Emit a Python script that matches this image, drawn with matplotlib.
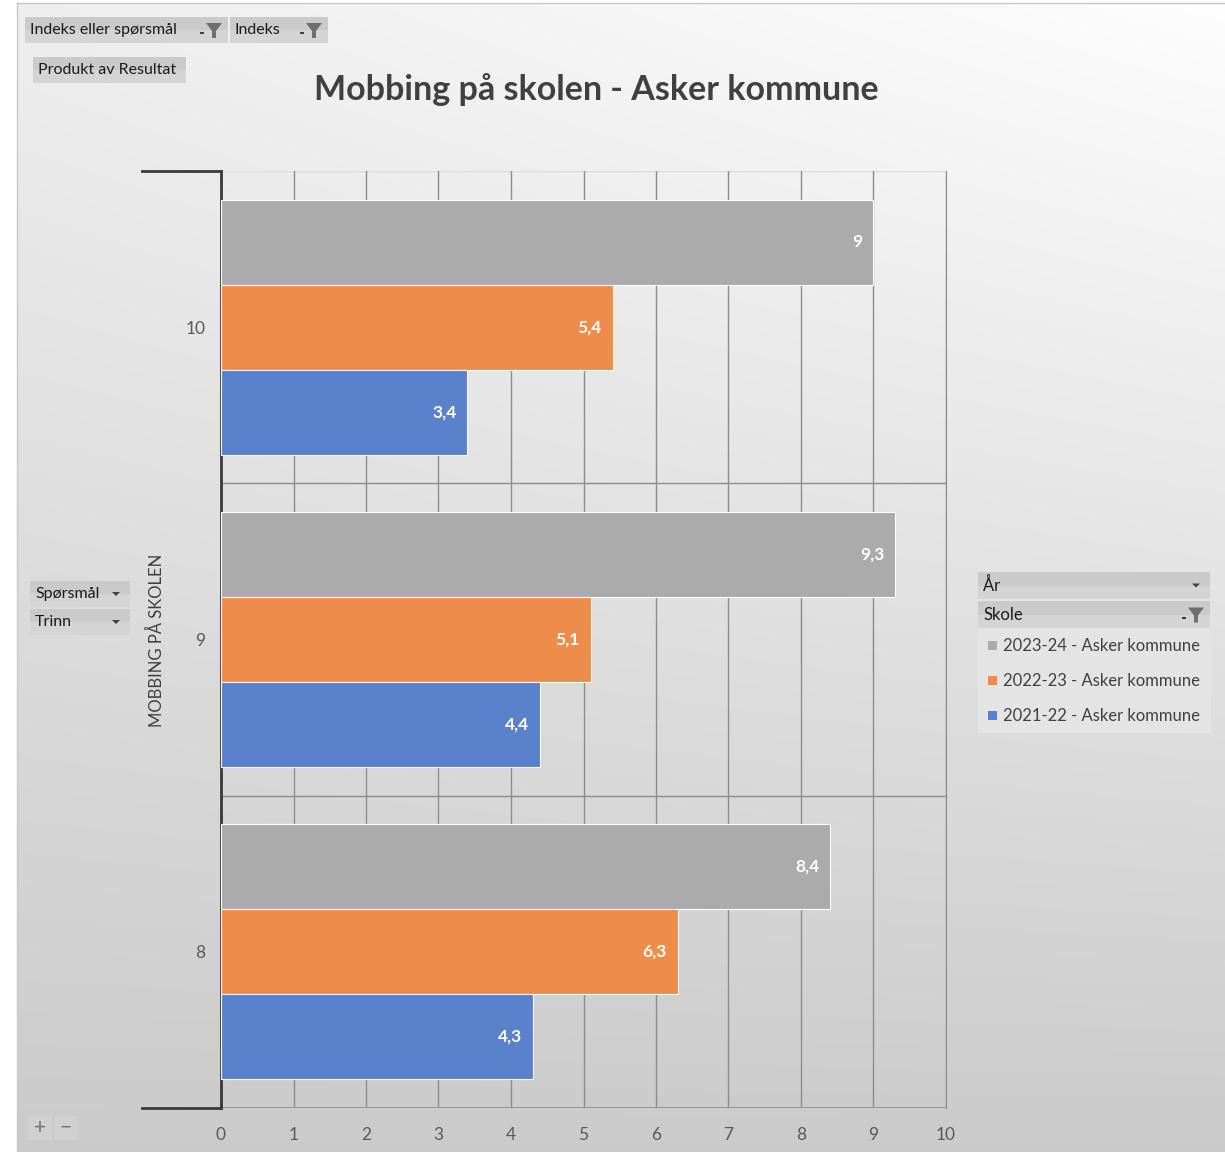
import numpy as np
import matplotlib
matplotlib.use("Agg")
import matplotlib.pyplot as plt
from matplotlib.patches import Rectangle, Polygon

plt.rcParams['font.family'] = ['Lato', 'DejaVu Sans']

# data
trinn = ['8', '9', '10']
series = ['2023-24 - Asker kommune', '2022-23 - Asker kommune', '2021-22 - Asker kommune']
verdier = {
    '2023-24 - Asker kommune': [8.4, 9.3, 9.0],
    '2022-23 - Asker kommune': [6.3, 5.1, 5.4],
    '2021-22 - Asker kommune': [4.3, 4.4, 3.4],
}
farger = ['#ABABAB', '#EE8D4B', '#5A82CC']
x_ticks = list(range(0, 11))
tittel = 'Mobbing på skolen - Asker kommune'

W, H = 1225, 1152
fig = plt.figure(figsize=(W / 100, H / 100), dpi=100)
fig.patch.set_facecolor('white')


def px(x, y):
    return x / W, 1 - y / H


# background gradient
bg = fig.add_axes([17 / W, 0, 1 - 17 / W, 1 - 3 / H])
gx, gy = np.meshgrid(np.linspace(0, 1, 200), np.linspace(0, 1, 200))
val = 0.935 + 0.06 * gx * (1 - gy) - 0.14 * gy
bg.imshow(np.dstack([val, val, val]), aspect='auto', extent=[0, 1, 1, 0], interpolation='bilinear')
bg.set_axis_off()
fig.add_artist(plt.Line2D([17 / W, 1], [1 - 3 / H, 1 - 3 / H], color='#C8C8C8', lw=1))
fig.add_artist(plt.Line2D([17 / W, 17 / W], [0, 1 - 3 / H], color='#C8C8C8', lw=1))

# main axes
x0, x1, yt, yb = 221, 946, 171, 1108
ax = fig.add_axes([x0 / W, 1 - yb / H, (x1 - x0) / W, (yb - yt) / H])
ax.patch.set_alpha(0)
ax.set_xlim(0, 10)
ax.set_ylim(0, 3)

bh = 0.272
pos = np.arange(len(trinn)) + 0.5
offs = [bh, 0, -bh]
for s, c, o in zip(series, farger, offs):
    vals = verdier[s]
    bars = ax.barh(pos + o, vals, height=bh, color=c, edgecolor='white', linewidth=0.8, zorder=3)
    for b, v in zip(bars, vals):
        lab = str(v).replace('.0', '').replace('.', ',')
        ax.text(v - 0.15, b.get_y() + bh / 2, lab, ha='right', va='center',
                color='white', fontsize=12.5, fontweight='bold', zorder=4)

ax.set_xticks(x_ticks)
ax.xaxis.grid(True, color='#8C8C8C', lw=1, zorder=0)
for yy in [1, 2]:
    ax.axhline(yy, color='#8C8C8C', lw=1, zorder=1)
ax.axhline(3, color='#DCDCDC', lw=1, zorder=1)
ax.axhline(0, color='#8C8C8C', lw=1.2, zorder=1)
ax.tick_params(axis='x', length=0, pad=14, labelsize=12.5, labelcolor='#595959')
ax.set_yticks(pos)
ax.set_yticklabels(trinn)
ax.tick_params(axis='y', length=0, pad=11, labelsize=12.5, labelcolor='#595959')
for sp in ['top', 'bottom']:
    ax.spines[sp].set_visible(False)
ax.spines['right'].set_color('#8C8C8C')
ax.spines['left'].set_color('#3A3A3A')
ax.spines['left'].set_linewidth(2)

# multi-level category bracket
for yy in [yt, yb]:
    fig.add_artist(plt.Line2D([142 / W, x0 / W], [1 - yy / H] * 2, color='#3A3A3A', lw=2))
fig.text(*px(156, 640), 'MOBBING PÅ SKOLEN', rotation=90, ha='center', va='center',
         fontsize=12, color='#404040')

fig.text(*px(596, 90), tittel, ha='center', va='center', fontsize=24.5,
         fontweight='bold', color='#404040')


def knapp(xa, ya, xb, yb_, tekst, ikon=None, fs=11.5):
    fig.add_artist(Rectangle(px(xa, yb_), (xb - xa) / W, (yb_ - ya) / H,
                             facecolor='#D4D4D4', edgecolor='none', transform=fig.transFigure))
    fig.add_artist(Rectangle(px(xa, (ya + yb_) / 2), (xb - xa) / W, (yb_ - ya) / 2 / H,
                             facecolor='#CACACA', edgecolor='none', transform=fig.transFigure))
    fig.text(*px(xa + 5, (ya + yb_) / 2), tekst, ha='left', va='center', fontsize=fs, color='#1A1A1A')
    cy = (ya + yb_) / 2
    if ikon == 'filter':
        fx = xb - 22
        fig.add_artist(Polygon([px(fx, cy - 7), px(fx + 16, cy - 7), px(fx + 10, cy + 1),
                                px(fx + 10, cy + 8), px(fx + 6, cy + 8), px(fx + 6, cy + 1)],
                               closed=True, facecolor='#6E6E6E', edgecolor='none',
                               transform=fig.transFigure))
        fig.add_artist(Rectangle(px(fx - 6, cy + 4), 4 / W, 2 / H, facecolor='#404040',
                                 transform=fig.transFigure))
    elif ikon == 'pil':
        fx = xb - 14
        fig.add_artist(Polygon([px(fx - 4, cy - 2), px(fx + 4, cy - 2), px(fx, cy + 2)],
                               closed=True, facecolor='#404040', edgecolor='none',
                               transform=fig.transFigure))


knapp(25, 17, 228, 43, 'Indeks eller spørsmål', 'filter')
knapp(230, 17, 328, 43, 'Indeks', 'filter')
knapp(33, 57, 186, 83, 'Produkt av Resultat')
knapp(30, 581, 130, 607, 'Spørsmål', 'pil')
knapp(30, 609, 130, 635, 'Trinn', 'pil')

# legend panel
fig.add_artist(Rectangle(px(978, 733), (1211 - 978) / W, (733 - 571) / H,
                         facecolor='#E4E4E4', edgecolor='none', transform=fig.transFigure))
knapp(978, 572, 1210, 599, 'År', 'pil', fs=12)
knapp(978, 601, 1210, 628, 'Skole', 'filter', fs=12)
for i, (s, c) in enumerate(zip(series, farger)):
    cy = 646 + i * 35
    fig.add_artist(Rectangle(px(988, cy + 4), 9 / W, 9 / H, facecolor=c, edgecolor='none',
                             transform=fig.transFigure))
    fig.text(*px(1003, cy), s, ha='left', va='center', fontsize=12, color='#404040')

# zoom buttons
for xa, t in [(28, '+'), (54, '−')]:
    fig.add_artist(Rectangle(px(xa, 1140), 24 / W, 24 / H, facecolor='#D0D0D0',
                             edgecolor='none', transform=fig.transFigure))
    fig.text(*px(xa + 12, 1128), t, ha='center', va='center', fontsize=15, color='#707070')

fig.savefig('out.png', dpi=100)
